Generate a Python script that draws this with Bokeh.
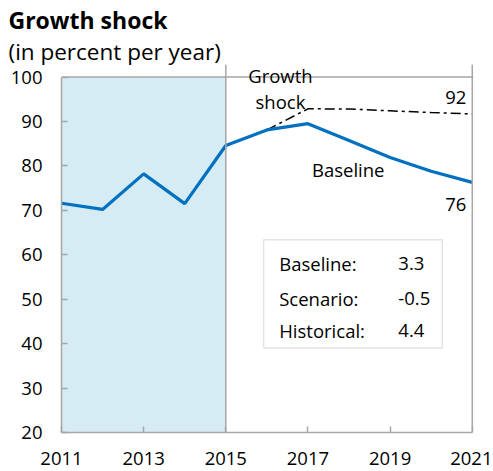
from bokeh.plotting import figure
from bokeh.models import BoxAnnotation, Span, Title, Range1d, FixedTicker, Label
from bokeh.embed import file_html
from bokeh.resources import INLINE

years = [2011, 2012, 2013, 2014, 2015, 2016, 2017, 2018, 2019, 2020, 2021]
baseline = [71.6, 70.2, 78.2, 71.5, 84.6, 88.1, 89.5, 85.7, 81.9, 78.8, 76.3]
shock_years = [2016, 2017, 2018, 2019, 2020, 2021]
shock = [88.1, 92.85, 92.8, 92.4, 92.0, 91.7]
x_ticks = [2011, 2013, 2015, 2017, 2019, 2021]
y_ticks = [20, 30, 40, 50, 60, 70, 80, 90, 100]
proj_start = 2015
box_labels = ["Baseline:", "Scenario:", "Historical:"]
box_values = ["3.3", "-0.5", "4.4"]
box_label_y = [58.0, 50.1, 42.9]

FONT = "Open Sans"
GRAY = "#A6A6A6"
FS = "18.5px"
x0, x1 = x_ticks[0], x_ticks[-1]
y0, y1 = y_ticks[0], y_ticks[-1]

p = figure(width=492, height=470, output_backend="svg", toolbar_location=None,
           x_range=Range1d(x0, x1 + 0.03), y_range=Range1d(y0, y1 + 2.82),
           min_border_left=61, min_border_right=19, min_border_top=64, min_border_bottom=38,
           title=None)
p.xgrid.visible = False
p.ygrid.visible = False
p.outline_line_color = None
p.background_fill_color = "white"
p.border_fill_color = "white"

sub = Title(text="(in percent per year)", text_font=FONT, text_font_size="22.5px",
            text_font_style="normal", align="left", offset=-53, text_color="black",
            standoff=-4)
ttl = Title(text="Growth shock", text_font=FONT, text_font_size="23px",
            text_font_style="bold", align="left", offset=-53, text_color="black",
            standoff=0)
p.add_layout(sub, "above")
p.add_layout(ttl, "above")

p.add_layout(BoxAnnotation(left=x0, right=proj_start, bottom=y0, top=y1, fill_color="#D5ECF4",
                           fill_alpha=1.0, line_color=None, level="underlay"))
p.add_layout(Span(location=proj_start, dimension="height", line_color=GRAY, line_width=1.5))
p.add_layout(Span(location=y1, dimension="width", line_color=GRAY, line_width=1.5))
p.add_layout(Span(location=x1, dimension="height", line_color=GRAY, line_width=1.5))

# inset box
p.add_layout(BoxAnnotation(left=2015.92, right=2020.27, bottom=39.0, top=63.4,
                           fill_color="white", fill_alpha=1.0, line_color=GRAY,
                           line_width=1.5, level="underlay"))

p.line(shock_years, shock, line_color="black", line_width=1.5, line_dash="10 4 3 4")
p.line(years, baseline, line_color="#0070C0", line_width=3.2)

for ax in (p.xaxis[0], p.yaxis[0]):
    ax.axis_line_color = GRAY
    ax.axis_line_width = 1.5
    ax.major_tick_line_color = GRAY
    ax.major_tick_line_width = 1.5
    ax.major_tick_in = 6
    ax.major_tick_out = 0
    ax.minor_tick_line_color = None
    ax.major_label_text_font = FONT
    ax.major_label_text_font_size = FS
    ax.major_label_text_color = "black"

p.xaxis[0].ticker = FixedTicker(ticks=x_ticks)
p.yaxis[0].ticker = FixedTicker(ticks=y_ticks)
p.xaxis[0].bounds = (x0, x1)
p.yaxis[0].bounds = (y0, y1)
p.xaxis[0].major_label_standoff = 19
p.yaxis[0].major_label_standoff = 19


def lab(x, y, t, align="center", size=FS):
    p.add_layout(Label(x=x, y=y, text=t, text_font=FONT, text_font_size=size,
                       text_align=align, text_baseline="middle", text_color="black"))


lab(2016.33, 100.3, "Growth")
lab(2016.33, 94.6, "shock")
lab(2017.98, 79.3, "Baseline")
lab(2020.6, shock[-1] + 3.8, "92")
lab(2020.6, baseline[-1] - 4.9, "76")

for t, y in zip(box_labels, box_label_y):
    lab(2016.3, y, t, align="left")
for t, y in zip(box_values, box_label_y):
    lab(2019.2, y, t, align="left")

open("out.html", "w").write(file_html(p, INLINE))
